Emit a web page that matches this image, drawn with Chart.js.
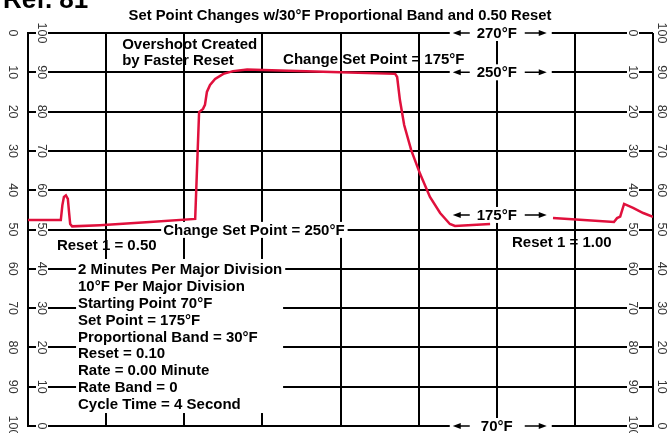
<!DOCTYPE html>
<html>
<head>
<meta charset="utf-8">
<title>Set Point Changes</title>
<script src="https://cdn.jsdelivr.net/npm/chart.js@4.4.1/dist/chart.umd.min.js"></script>
<style>
  html, body { margin: 0; padding: 0; background: #fff; }
  #wrap { width: 667px; height: 433px; position: relative; }
</style>
</head>
<body>
<div id="wrap"><canvas id="chart"></canvas></div>
<script>
// Recorder trace: time in minutes, pen position in % of chart width (null = pen lift)
const timeMin = [0, 0.84, 0.88, 0.92, 0.97, 1.02, 1.05, 1.08, 1.13, 1.84, 3.12, 4.28,
  4.38, 4.48, 4.53, 4.58, 4.66, 4.79, 5.0, 5.25, 5.61, 6.02, 7.99, 9.40,
  9.45, 9.52, 9.63, 9.81, 10.04, 10.29, 10.55, 10.80, 10.93, 11.83, 12.6,
  13.44, 15.0, 15.08, 15.16, 15.26, 15.49, 15.75, 16.0];
const penPct = [52.4, 52.4, 56.2, 58.3, 58.7, 57.8, 54.5, 51.4, 50.8, 51.1, 51.9, 52.7,
  79.9, 80.7, 81.7, 85.0, 86.8, 88.3, 89.6, 90.3, 90.7, 90.6, 90.0, 89.6,
  88.8, 83.0, 76.6, 70.2, 64.1, 58.3, 54.2, 51.4, 50.9, 51.4, null,
  52.9, 51.9, 52.9, 53.3, 56.5, 55.5, 54.2, 53.2];

// chart paper divisions
const chartTicks = [0, 10, 20, 30, 40, 50, 60, 70, 80, 90, 100];
const timeTicks = [0, 2, 4, 6, 8, 10, 12, 14, 16];

// temperature marks along the 12 minute line
const tempMarks = ['270°F', '250°F', '175°F', '70°F'];
const tempMarkPct = [100, 90, 53.7, 0];

const noteLines = [
  '2 Minutes Per Major Division',
  '10°F Per Major Division',
  'Starting Point 70°F',
  'Set Point = 175°F',
  'Proportional Band = 30°F',
  'Reset = 0.10',
  'Rate = 0.00 Minute',
  'Rate Band = 0',
  'Cycle Time = 4 Second'
];

const FONT = '"Liberation Sans", Arial, Helvetica, sans-serif';
const INK = '#000';
const PEN = '#e0103c';

function rotatedNumber(ctx, text, x, y) {
  ctx.save();
  ctx.translate(x, y);
  ctx.rotate(Math.PI / 2);
  ctx.font = '12.5px ' + FONT;
  const w = ctx.measureText(text).width;
  ctx.fillStyle = '#fff';
  ctx.fillRect(-w / 2 - 2, -6, w + 4, 12);
  ctx.fillStyle = '#333';
  ctx.textAlign = 'center';
  ctx.textBaseline = 'middle';
  ctx.fillText(text, 0, 1);
  ctx.restore();
}

function arrowLabel(ctx, text, cx, cy) {
  ctx.fillStyle = '#fff';
  ctx.fillRect(cx - 47, cy - 8, 102, 16);
  ctx.fillStyle = INK;
  ctx.strokeStyle = INK;
  ctx.lineWidth = 1.5;
  ctx.font = 'bold 15px ' + FONT;
  ctx.textAlign = 'center';
  ctx.textBaseline = 'middle';
  ctx.fillText(text, cx, cy + 1);
  ctx.beginPath();
  ctx.moveTo(cx - 38, cy);
  ctx.lineTo(cx - 27, cy);
  ctx.moveTo(cx + 28, cy);
  ctx.lineTo(cx + 43, cy);
  ctx.stroke();
  ctx.beginPath();
  ctx.moveTo(cx - 44, cy);
  ctx.lineTo(cx - 36, cy - 3);
  ctx.lineTo(cx - 36, cy + 3);
  ctx.closePath();
  ctx.moveTo(cx + 50, cy);
  ctx.lineTo(cx + 42, cy - 3);
  ctx.lineTo(cx + 42, cy + 3);
  ctx.closePath();
  ctx.fill();
}

function boldText(ctx, text, x, y, knockout) {
  ctx.font = 'bold 15px ' + FONT;
  ctx.textAlign = 'left';
  ctx.textBaseline = 'middle';
  if (knockout) {
    const w = ctx.measureText(text).width;
    ctx.fillStyle = '#fff';
    ctx.fillRect(x - 2, y - 8, w + 5, 16);
  }
  ctx.fillStyle = INK;
  ctx.fillText(text, x, y + 1);
}

const paperPlugin = {
  id: 'paper',
  beforeDatasetsDraw(chart) {
    const { ctx, scales: { x, y } } = chart;
    const px = (v) => x.getPixelForValue(v);
    const py = (v) => y.getPixelForValue(v);
    ctx.save();

    // scale numbers on both edges
    chartTicks.forEach((v) => {
      rotatedNumber(ctx, String(100 - v), 13, py(v));
      rotatedNumber(ctx, String(v), px(0) + 14, py(v));
      rotatedNumber(ctx, String(100 - v), px(16) - 20, py(v));
      rotatedNumber(ctx, String(v), 662, py(v));
    });

    // settings block
    ctx.fillStyle = '#fff';
    ctx.fillRect(px(1.23), py(42.5), px(6.53) - px(1.23), py(3.3) - py(42.5));
    noteLines.forEach((line, i) => {
      boldText(ctx, line, px(1.28), py(39.9) + i * 16.8, i === 0);
    });

    tempMarks.forEach((t, i) => arrowLabel(ctx, t, px(12), py(tempMarkPct[i])));

    boldText(ctx, 'Change Set Point = 250°F', px(3.46), py(49.9), true);
    boldText(ctx, 'Overshoot Created', px(2.41), py(97.2), false);
    boldText(ctx, 'by Faster Reset', px(2.41), py(93.1), false);
    boldText(ctx, 'Change Set Point = 175°F', px(6.53), py(93.4), false);
    boldText(ctx, 'Reset 1 = 0.50', px(0.74), py(46.1), false);
    boldText(ctx, 'Reset 1 = 1.00', px(12.39), py(46.8), false);

    // headings
    ctx.fillStyle = INK;
    ctx.textAlign = 'center';
    ctx.textBaseline = 'middle';
    ctx.font = 'bold 14.8px ' + FONT;
    ctx.fillText('Set Point Changes w/30°F Proportional Band and 0.50 Reset', 340, 16);
    ctx.textAlign = 'left';
    ctx.textBaseline = 'alphabetic';
    ctx.font = 'bold 26px ' + FONT;
    ctx.fillText('Ref. 81', 3, 8);
    ctx.restore();
  }
};

const trace = timeMin.map((t, i) => ({ x: t, y: penPct[i] }));

new Chart(document.getElementById('chart'), {
  type: 'line',
  data: {
    datasets: [{
      data: trace,
      borderColor: PEN,
      borderWidth: 2.5,
      pointRadius: 0,
      tension: 0,
      spanGaps: false,
      fill: false
    }]
  },
  options: {
    responsive: true,
    maintainAspectRatio: false,
    animation: false,
    layout: { padding: { left: 28, right: 14, top: 33, bottom: 7 } },
    plugins: { legend: { display: false }, tooltip: { enabled: false } },
    scales: {
      x: {
        type: 'linear',
        min: 0,
        max: 16,
        afterBuildTicks: (s) => { s.ticks = timeTicks.map((v) => ({ value: v })); },
        ticks: { display: false },
        grid: { color: INK, lineWidth: 2, drawTicks: false },
        border: { display: true, color: INK, width: 2 }
      },
      y: {
        type: 'linear',
        min: 0,
        max: 100,
        afterBuildTicks: (s) => { s.ticks = chartTicks.map((v) => ({ value: v })); },
        ticks: { display: false },
        grid: { color: INK, lineWidth: 2, drawTicks: false },
        border: { display: true, color: INK, width: 2 }
      }
    }
  },
  plugins: [paperPlugin]
});
</script>
</body>
</html>
